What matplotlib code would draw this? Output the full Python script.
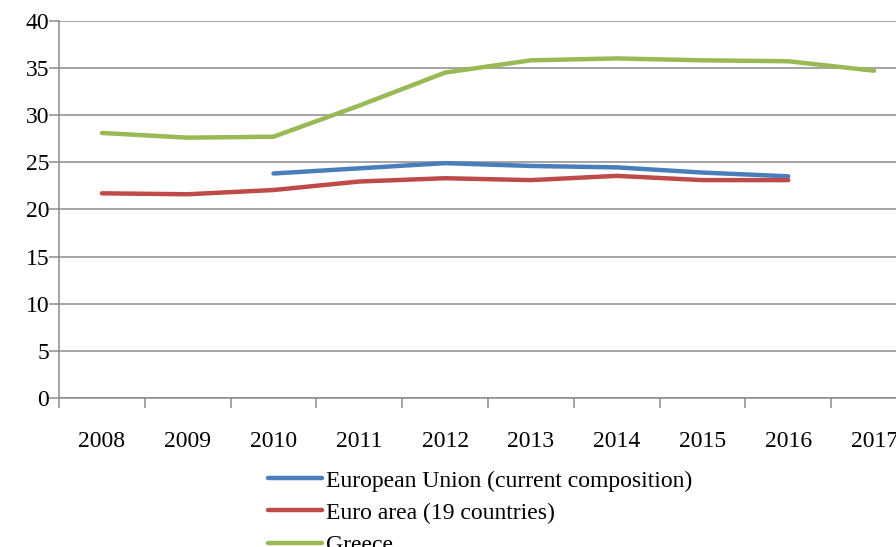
import numpy as np
import matplotlib
matplotlib.use("Agg")
import matplotlib.pyplot as plt
from matplotlib.ticker import FixedLocator, NullFormatter

# Data
years = ["2008", "2009", "2010", "2011", "2012", "2013", "2014", "2015", "2016", "2017"]
eu = [None, None, 23.8, 24.35, 24.9, 24.6, 24.45, 23.9, 23.5, None]
euro_area = [21.7, 21.6, 22.05, 22.95, 23.3, 23.1, 23.55, 23.1, 23.1, None]
greece = [28.1, 27.6, 27.7, 31.0, 34.5, 35.8, 36.0, 35.8, 35.7, 34.7]

labels = ["European Union (current composition)", "Euro area (19 countries)", "Greece"]
colors = ["#4A7EBB", "#BE4B48", "#98B954"]

plt.rcParams["font.family"] = ["Liberation Serif", "DejaVu Serif"]

fig = plt.figure(figsize=(8.96, 5.47), dpi=100)
# axes runs past the right edge, as in the reference (cropped picture)
ax = fig.add_axes([59 / 896, 1 - 398 / 547, 858 / 896, 377.3 / 547])

x = np.arange(len(years))
for series, label, color in zip([eu, euro_area, greece], labels, colors):
    y = np.array([np.nan if v is None else v for v in series], dtype=float)
    ax.plot(x, y, color=color, lw=3.2, label=label, solid_capstyle="round")

ax.set_xlim(-0.5, len(years) - 0.5)
ax.set_ylim(0, 40)
ax.set_yticks(range(0, 41, 5))
ax.yaxis.grid(True, color="#8C8C8C", lw=1.1)
ax.set_axisbelow(True)

# category labels centred, tick marks between categories
ax.set_xticks(x)
ax.set_xticklabels(years)
ax.tick_params(axis="x", which="major", length=0, pad=24, labelsize=17)
ax.xaxis.set_minor_locator(FixedLocator(np.arange(-0.5, len(years), 1.0)))
ax.xaxis.set_minor_formatter(NullFormatter())
ax.tick_params(axis="x", which="minor", length=7, width=1.1, color="#8C8C8C", direction="out")
ax.tick_params(axis="y", length=7, width=1.1, color="#8C8C8C", pad=0, labelsize=17)

for side in ["top", "right"]:
    ax.spines[side].set_visible(False)
for side in ["left", "bottom"]:
    ax.spines[side].set_color("#8C8C8C")
    ax.spines[side].set_linewidth(1.1)

fig.legend(loc="upper left", bbox_to_anchor=(268 / 896, 1 - 470 / 547), frameon=False,
           fontsize=17, handlelength=2.3, handletextpad=0.15, labelspacing=0.45,
           borderaxespad=0, borderpad=0)

fig.savefig("out.png", dpi=100)
